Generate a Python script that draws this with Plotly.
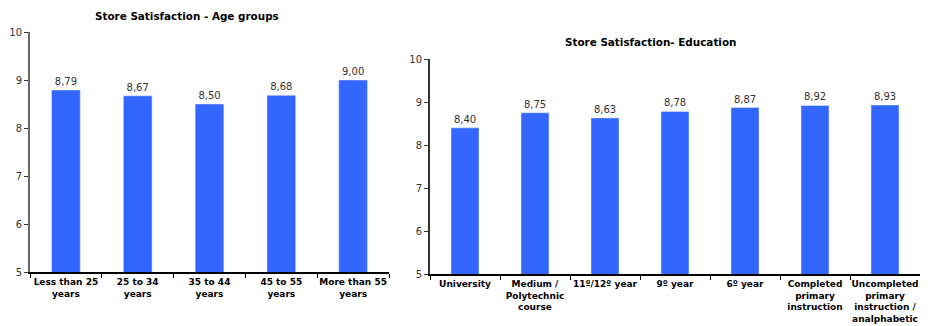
import plotly.graph_objects as go

age_categories = ["Less than 25<br>years", "25 to 34<br>years", "35 to 44<br>years",
                  "45 to 55<br>years", "More than 55<br>years"]
age_values = [8.79, 8.67, 8.50, 8.68, 9.00]

edu_categories = ["University", "Medium /<br>Polytechnic<br>course", "11º/12º year",
                  "9º year", "6º year", "Completed<br>primary<br>instruction",
                  "Uncompleted<br>primary<br>instruction /<br>analphabetic"]
edu_values = [8.40, 8.75, 8.63, 8.78, 8.87, 8.92, 8.93]

title_age = "Store Satisfaction - Age groups"
title_edu = "Store Satisfaction- Education"

BAR = "#3366ff"
FONT = "DejaVu Sans"
W, H = 940, 326


def fmt(v):
    return f"{v:.2f}".replace(".", ",")


fig = go.Figure()
fig.add_trace(go.Bar(x=age_categories, y=age_values, text=[fmt(v) for v in age_values],
                     textposition="outside", cliponaxis=False, marker_color=BAR,
                     width=0.4, xaxis="x", yaxis="y",
                     textfont=dict(family=FONT, size=10, color="#333333")))
fig.add_trace(go.Bar(x=edu_categories, y=edu_values, text=[fmt(v) for v in edu_values],
                     textposition="outside", cliponaxis=False, marker_color=BAR,
                     width=0.4, xaxis="x2", yaxis="y2",
                     textfont=dict(family=FONT, size=10, color="#333333")))

xcommon = dict(type="category", tickson="boundaries", ticks="outside", ticklen=4,
               tickcolor="#000", showline=True, linecolor="#000", linewidth=2,
               tickangle=0, automargin=False,
               tickfont=dict(family=FONT, size=9, color="#000", weight="bold"),
               showgrid=False, zeroline=False, fixedrange=True)
ycommon = dict(range=[5, 10], dtick=1, ticks="outside", ticklen=4, tickcolor="#333",
               showline=True, linewidth=2, showgrid=False, zeroline=False, automargin=False,
               tickfont=dict(family=FONT, size=10, color="#333333"), fixedrange=True)

fig.update_layout(
    width=W, height=H, margin=dict(l=0, r=0, t=0, b=0),
    paper_bgcolor="white", plot_bgcolor="white", showlegend=False,
    font=dict(family=FONT),
    xaxis=dict(domain=[30 / W, 389 / W], anchor="y", **xcommon),
    yaxis=dict(domain=[1 - 272 / H, 1 - 32 / H], anchor="x", linecolor="#666666", **ycommon),
    xaxis2=dict(domain=[430 / W, 920 / W], anchor="y2", **xcommon),
    yaxis2=dict(domain=[1 - 274 / H, 1 - 59 / H], anchor="x2", linecolor="#333333", **ycommon),
    annotations=[
        dict(text=title_age, x=187 / W, y=1 - 16 / H, xref="paper", yref="paper",
             showarrow=False, xanchor="center", yanchor="middle",
             font=dict(family=FONT, size=10.4, color="#000", weight="bold")),
        dict(text=title_edu, x=650 / W, y=1 - 42 / H, xref="paper", yref="paper",
             showarrow=False, xanchor="center", yanchor="middle",
             font=dict(family=FONT, size=10.4, color="#000", weight="bold")),
    ],
)

fig.write_html("out.html")
